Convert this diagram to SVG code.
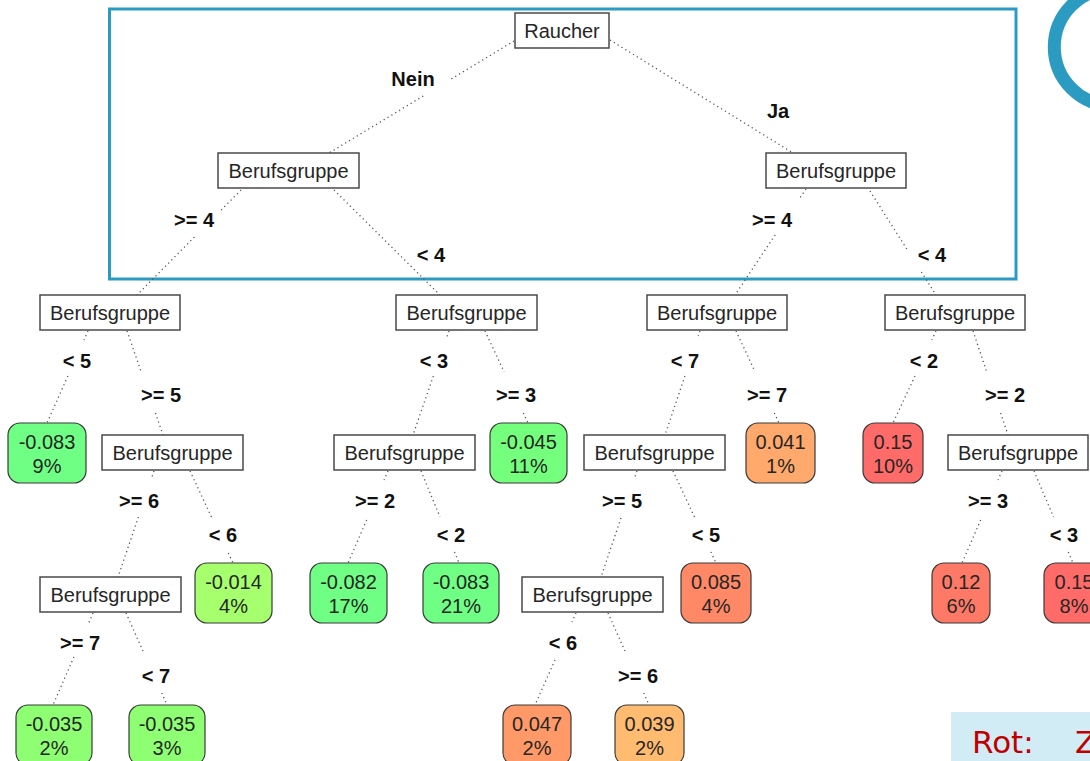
<svg xmlns="http://www.w3.org/2000/svg" width="1090" height="761" viewBox="0 0 1090 761">
<style>
.split rect{fill:#fff;stroke:#4a4a4a;stroke-width:1.5}
.t{font-family:"Liberation Sans",Arial,sans-serif;font-size:20px;fill:#262626;text-anchor:middle}
.leaf rect{stroke:#3a3a3a;stroke-width:1.2}
.lbl{font-family:"Liberation Sans",Arial,sans-serif;font-size:20px;font-weight:bold;fill:#111;text-anchor:middle}
.e{fill:none;stroke:#555;stroke-width:1.3;stroke-dasharray:1.2 3.3}
</style>
<rect width="1090" height="761" fill="#fff"/>
<rect x="109.5" y="9" width="906.5" height="270" fill="none" stroke="#2C9BC2" stroke-width="3"/>
<circle cx="1113" cy="47" r="58.7" fill="none" stroke="#2C9BC2" stroke-width="13"/>

<g id="connectors">
<path class="e" d="M514,41 L449.6,80 M423.2,96 L329,153"/>
<path class="e" d="M610,40 L793,153"/>
<path class="e" d="M241,190 L219.2,212 M194.4,237 L137,295"/>
<path class="e" d="M334,190 L440,295"/>
<path class="e" d="M806,189 L798.6,200 M775.2,235 L735,295"/>
<path class="e" d="M870,191 L907.4,250 M921.4,272 L936,295"/>
<path class="e" d="M88,331 L84,340 M67.9,376 L47,423"/>
<path class="e" d="M127,331 L141.2,372 M155.4,413 L163,435"/>
<path class="e" d="M154,471 L151.6,478 M138.4,517 L118,577"/>
<path class="e" d="M190,471 L211.5,517 M228.3,553 L233,563"/>
<path class="e" d="M93,613 L88.7,623 M73.9,657 L53,705"/>
<path class="e" d="M126,613 L143.4,652 M161.7,693 L167,705"/>
<path class="e" d="M449,331 L446.6,338 M433.4,376 L413,435"/>
<path class="e" d="M485,331 L504.2,372 M523.3,413 L528,423"/>
<path class="e" d="M388,471 L384.1,480 M366.7,520 L348,563"/>
<path class="e" d="M421,471 L440,517 M454.5,552 L459,563"/>
<path class="e" d="M700,331 L698.3,336 M684.9,376 L665,435"/>
<path class="e" d="M736,331 L754.7,371 M774.3,413 L779,423"/>
<path class="e" d="M637,471 L634.6,478 M621,518 L601,577"/>
<path class="e" d="M673,471 L694.5,517 M710.9,552 L716,563"/>
<path class="e" d="M576,613 L572,622 M555,660 L535,705"/>
<path class="e" d="M608,613 L625.4,652 M643.7,693 L649,705"/>
<path class="e" d="M936,331 L931.8,340 M915,376 L893,423"/>
<path class="e" d="M973,331 L986.8,372 M1000.6,413 L1008,435"/>
<path class="e" d="M1002,471 L998.1,480 M980.7,520 L962,563"/>
<path class="e" d="M1034,471 L1053.5,517 M1068.3,552 L1073,563"/>
<text class="lbl" x="413" y="86">Nein</text>
<text class="lbl" x="778" y="118">Ja</text>
<text class="lbl" x="194" y="227">&gt;= 4</text>
<text class="lbl" x="431" y="262">&lt; 4</text>
<text class="lbl" x="772" y="227">&gt;= 4</text>
<text class="lbl" x="932" y="262">&lt; 4</text>
<text class="lbl" x="77" y="368">&lt; 5</text>
<text class="lbl" x="161" y="402">&gt;= 5</text>
<text class="lbl" x="139" y="508">&gt;= 6</text>
<text class="lbl" x="223" y="542">&lt; 6</text>
<text class="lbl" x="80" y="650">&gt;= 7</text>
<text class="lbl" x="156" y="683">&lt; 7</text>
<text class="lbl" x="434" y="368">&lt; 3</text>
<text class="lbl" x="516" y="402">&gt;= 3</text>
<text class="lbl" x="375" y="508">&gt;= 2</text>
<text class="lbl" x="451" y="542">&lt; 2</text>
<text class="lbl" x="685" y="368">&lt; 7</text>
<text class="lbl" x="767" y="402">&gt;= 7</text>
<text class="lbl" x="622" y="508">&gt;= 5</text>
<text class="lbl" x="706" y="542">&lt; 5</text>
<text class="lbl" x="563" y="650">&lt; 6</text>
<text class="lbl" x="638" y="683">&gt;= 6</text>
<text class="lbl" x="924" y="368">&lt; 2</text>
<text class="lbl" x="1005" y="402">&gt;= 2</text>
<text class="lbl" x="988" y="508">&gt;= 3</text>
<text class="lbl" x="1064" y="542">&lt; 3</text>
</g>

<g id="n-raucher" class="split"><rect x="515" y="13" width="94" height="35"/><text class="t" x="562" y="38">Raucher</text></g>
<g id="n-l1a" class="split"><rect x="218" y="153" width="141" height="35"/><text class="t" x="288.5" y="178">Berufsgruppe</text></g>
<g id="n-l1b" class="split"><rect x="766" y="153" width="140" height="35"/><text class="t" x="836" y="178">Berufsgruppe</text></g>
<g id="n-l2a" class="split"><rect x="40" y="295" width="140" height="35"/><text class="t" x="110" y="320">Berufsgruppe</text></g>
<g id="n-l2b" class="split"><rect x="396" y="295" width="141" height="35"/><text class="t" x="466.5" y="320">Berufsgruppe</text></g>
<g id="n-l2c" class="split"><rect x="647" y="295" width="140" height="35"/><text class="t" x="717" y="320">Berufsgruppe</text></g>
<g id="n-l2d" class="split"><rect x="885" y="295" width="140" height="35"/><text class="t" x="955" y="320">Berufsgruppe</text></g>
<g id="n-l3a" class="split"><rect x="102" y="435" width="141" height="35"/><text class="t" x="172.5" y="460">Berufsgruppe</text></g>
<g id="n-l3b" class="split"><rect x="334" y="435" width="141" height="35"/><text class="t" x="404.5" y="460">Berufsgruppe</text></g>
<g id="n-l3c" class="split"><rect x="584" y="435" width="141" height="35"/><text class="t" x="654.5" y="460">Berufsgruppe</text></g>
<g id="n-l3d" class="split"><rect x="948" y="435" width="140" height="35"/><text class="t" x="1018" y="460">Berufsgruppe</text></g>
<g id="n-l4a" class="split"><rect x="40" y="577" width="141" height="35"/><text class="t" x="110.5" y="602">Berufsgruppe</text></g>
<g id="n-l4c" class="split"><rect x="522" y="577" width="141" height="35"/><text class="t" x="592.5" y="602">Berufsgruppe</text></g>

<g id="leaf1" class="leaf"><rect x="8" y="423" width="78" height="60" rx="12" fill="#6EFF84"/><text class="t" x="47" y="449">-0.083</text><text class="t" x="47" y="473">9%</text></g>
<g id="leaf2" class="leaf"><rect x="195" y="563" width="77" height="60" rx="12" fill="#A6FF6C"/><text class="t" x="233.5" y="589">-0.014</text><text class="t" x="233.5" y="613">4%</text></g>
<g id="leaf3" class="leaf"><rect x="16" y="705" width="76" height="60" rx="12" fill="#8EFF72"/><text class="t" x="54" y="731">-0.035</text><text class="t" x="54" y="755">2%</text></g>
<g id="leaf4" class="leaf"><rect x="129" y="705" width="76" height="60" rx="12" fill="#8EFF72"/><text class="t" x="167" y="731">-0.035</text><text class="t" x="167" y="755">3%</text></g>
<g id="leaf5" class="leaf"><rect x="490" y="423" width="77" height="60" rx="12" fill="#74FF7C"/><text class="t" x="528.5" y="449">-0.045</text><text class="t" x="528.5" y="473">11%</text></g>
<g id="leaf6" class="leaf"><rect x="310" y="563" width="77" height="60" rx="12" fill="#6EFF84"/><text class="t" x="348.5" y="589">-0.082</text><text class="t" x="348.5" y="613">17%</text></g>
<g id="leaf7" class="leaf"><rect x="423" y="563" width="76" height="60" rx="12" fill="#6EFF84"/><text class="t" x="461" y="589">-0.083</text><text class="t" x="461" y="613">21%</text></g>
<g id="leaf8" class="leaf"><rect x="746" y="423" width="69" height="60" rx="12" fill="#FFAA6C"/><text class="t" x="780.5" y="449">0.041</text><text class="t" x="780.5" y="473">1%</text></g>
<g id="leaf9" class="leaf"><rect x="681" y="563" width="70" height="60" rx="12" fill="#FF8866"/><text class="t" x="716" y="589">0.085</text><text class="t" x="716" y="613">4%</text></g>
<g id="leaf10" class="leaf"><rect x="503" y="705" width="68" height="60" rx="12" fill="#FF9A68"/><text class="t" x="537" y="731">0.047</text><text class="t" x="537" y="755">2%</text></g>
<g id="leaf11" class="leaf"><rect x="615" y="705" width="69" height="60" rx="12" fill="#FFBB70"/><text class="t" x="649.5" y="731">0.039</text><text class="t" x="649.5" y="755">2%</text></g>
<g id="leaf12" class="leaf"><rect x="863" y="423" width="60" height="60" rx="12" fill="#FF6B68"/><text class="t" x="893" y="449">0.15</text><text class="t" x="893" y="473">10%</text></g>
<g id="leaf13" class="leaf"><rect x="932" y="563" width="58" height="60" rx="12" fill="#FF7A66"/><text class="t" x="961" y="589">0.12</text><text class="t" x="961" y="613">6%</text></g>
<g id="leaf14" class="leaf"><rect x="1044" y="563" width="60" height="60" rx="12" fill="#FF6B68"/><text class="t" x="1074" y="589">0.15</text><text class="t" x="1074" y="613">8%</text></g>

<rect x="951" y="712" width="139" height="49" fill="#D1ECF5"/>
<text x="972" y="753" font-family="'DejaVu Sans',sans-serif" font-size="31" fill="#C00000">Rot:<tspan x="1075">Z</tspan></text>
</svg>
